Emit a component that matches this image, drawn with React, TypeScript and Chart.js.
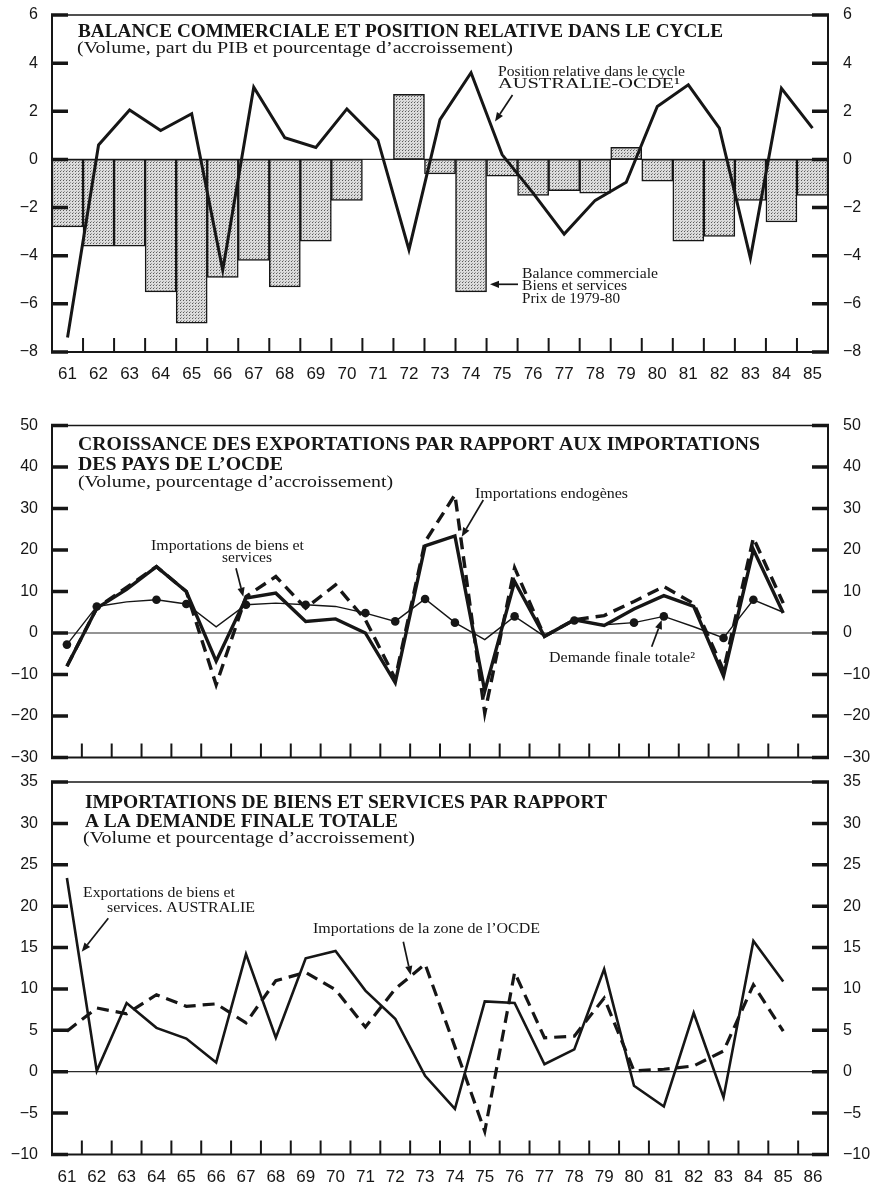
import { useEffect, useRef } from "react";
import { Chart, registerables } from "chart.js";

Chart.register(...registerables);

const INK = "#161616";
const SANS = "'Liberation Sans', Arial, Helvetica, sans-serif";
const NARROW = "'Liberation Sans Narrow', 'Arial Narrow', 'Liberation Sans', Arial, sans-serif";
const SERIF = "'Liberation Serif', 'Times New Roman', Times, serif";

const PAGE_W = 885;
const PLOT_LEFT = 52;
const PLOT_RIGHT = 828;

// ---- Data -------------------------------------------------------------
// Top panel: years 1961-1985
const yearsTop = ["61", "62", "63", "64", "65", "66", "67", "68", "69", "70", "71", "72", "73",
  "74", "75", "76", "77", "78", "79", "80", "81", "82", "83", "84", "85"];
// Lower panels: axis runs to 1986
const yearsLong = ["61", "62", "63", "64", "65", "66", "67", "68", "69", "70", "71", "72", "73",
  "74", "75", "76", "77", "78", "79", "80", "81", "82", "83", "84", "85", "86"];

// Balance commerciale, biens et services, prix de 1979-80 (% du PIB)
const tradeBalance = [-2.8, -3.6, -3.6, -5.5, -6.8, -4.9, -4.2, -5.3, -3.4, -1.7, 0, 2.7, -0.6,
  -5.5, -0.7, -1.5, -1.3, -1.4, 0.5, -0.9, -3.4, -3.2, -1.7, -2.6, -1.5];
// Position relative dans le cycle Australie-OCDE
const cyclePosition = [-7.4, 0.6, 2.05, 1.2, 1.9, -4.6, 3.0, 0.9, 0.5, 2.1, 0.8, -3.75, 1.65,
  3.6, 0.2, -1.4, -3.1, -1.7, -0.95, 2.2, 3.1, 1.3, -4.1, 2.95, 1.3];

// Middle panel
const goodsImports = [-8.0, 6.0, 10.5, 16.0, 10.0, -6.8, 8.4, 9.6, 2.8, 3.4, 0.0, -12.0, 21.0,
  23.4, -14.0, 12.4, -0.8, 3.2, 1.8, 5.8, 9.0, 6.4, -10.4, 20.1, 4.8];
const endogenousImports = [-8.0, 6.0, 11.0, 16.0, 10.0, -12.5, 8.8, 13.6, 6.0, 11.6, 3.2, -11.0, 22.0,
  33.3, -19.3, 15.7, -0.8, 3.2, 4.2, 7.6, 11.2, 7.1, -9.0, 22.9, 7.2];
const finalDemand = [-2.8, 6.4, 7.5, 8.0, 7.0, 1.5, 6.8, 7.2, 6.8, 6.4, 4.8, 2.8, 8.2,
  2.5, -1.6, 4.0, -0.8, 3.0, 2.0, 2.5, 4.0, 1.5, -1.2, 8.0, 5.0];
// Years marked with a dot on the final-demand line
const demandMarkedYears = ["61", "62", "64", "65", "67", "69", "71", "72", "73", "74", "76",
  "78", "80", "81", "83", "84"];

// Bottom panel
const australianExports = [23.4, 0.1, 8.3, 5.3, 4.0, 1.1, 14.2, 4.1, 13.7, 14.6, 9.8, 6.4, -0.5,
  -4.5, 8.5, 8.3, 0.9, 2.7, 12.4, -1.7, -4.2, 7.1, -3.1, 15.8, 10.9];
const oecdImports = [4.9, 7.7, 7.0, 9.3, 7.9, 8.2, 5.9, 11.0, 12.0, 9.9, 5.4, 10.0, 13.0,
  3.0, -7.2, 12.0, 4.1, 4.3, 8.9, 0.1, 0.3, 0.7, 2.5, 10.5, 4.9];

// ---- Layout -----------------------------------------------------------
type Note = { text: string; x: number; y: number; font: string; width?: number };
type Arrow = [number, number, number, number];

interface Panel {
  top: number;
  height: number;
  areaTop: number;
  areaBottom: number;
  labels: string[];
  showX: boolean;
  xPad: number;
  min: number;
  max: number;
  step: number;
  notes: Note[];
  arrows: Arrow[];
}

const titleFont = `bold 18.5px ${SERIF}`;
const subFont = `16px ${SERIF}`;
const noteFont = `14px ${SERIF}`;

const topPanel: Panel = {
  top: 0, height: 400, areaTop: 15, areaBottom: 352,
  labels: yearsTop, showX: true, xPad: 12,
  min: -8, max: 6, step: 2,
  notes: [
    { text: "BALANCE COMMERCIALE ET POSITION RELATIVE DANS LE CYCLE", x: 78, y: 36.5, font: titleFont, width: 645 },
    { text: "(Volume, part du PIB et pourcentage d\u2019accroissement)", x: 77, y: 53, font: subFont, width: 436 },
    { text: "Position relative dans le cycle", x: 498, y: 76, font: noteFont, width: 187 },
    { text: "AUSTRALIE-OCDE\u00b9", x: 498, y: 87.5, font: noteFont, width: 182 },
    { text: "Balance commerciale", x: 522, y: 277.5, font: noteFont, width: 136 },
    { text: "Biens et services", x: 522, y: 290, font: noteFont, width: 105 },
    { text: "Prix de 1979-80", x: 522, y: 302.5, font: noteFont, width: 98 },
  ],
  arrows: [
    [512.5, 95, 495, 121.5],
    [518, 284.3, 490, 284.3],
  ],
};

const middlePanel: Panel = {
  top: 400, height: 370, areaTop: 425.5, areaBottom: 757.5,
  labels: yearsLong, showX: false, xPad: 0,
  min: -30, max: 50, step: 10,
  notes: [
    { text: "CROISSANCE DES EXPORTATIONS PAR RAPPORT AUX IMPORTATIONS", x: 78, y: 450, font: titleFont, width: 682 },
    { text: "DES PAYS DE L\u2019OCDE", x: 78, y: 470, font: titleFont, width: 205 },
    { text: "(Volume, pourcentage d\u2019accroissement)", x: 78, y: 487, font: subFont, width: 315 },
    { text: "Importations de biens et", x: 151, y: 550, font: noteFont, width: 153 },
    { text: "services", x: 222, y: 561.5, font: noteFont, width: 50 },
    { text: "Importations endog\u00e8nes", x: 475, y: 498, font: noteFont, width: 153 },
    { text: "Demande finale totale\u00b2", x: 549, y: 661.5, font: noteFont, width: 146 },
  ],
  arrows: [
    [236, 568.3, 243.3, 596.7],
    [483.3, 500, 461.7, 536.7],
    [651.7, 646.7, 661.7, 620],
  ],
};

const bottomPanel: Panel = {
  top: 770, height: 416, areaTop: 782, areaBottom: 1154.5,
  labels: yearsLong, showX: true, xPad: 13,
  min: -10, max: 35, step: 5,
  notes: [
    { text: "IMPORTATIONS DE BIENS ET SERVICES PAR RAPPORT", x: 85, y: 808, font: titleFont, width: 522 },
    { text: "A LA DEMANDE FINALE TOTALE", x: 85, y: 826.5, font: titleFont, width: 313 },
    { text: "(Volume et pourcentage d\u2019accroissement)", x: 83, y: 843, font: subFont, width: 332 },
    { text: "Exportations de biens et", x: 83, y: 896.5, font: noteFont, width: 152 },
    { text: "services. AUSTRALIE", x: 107, y: 911.5, font: noteFont, width: 148 },
    { text: "Importations de la zone de l\u2019OCDE", x: 313, y: 933, font: noteFont, width: 227 },
  ],
  arrows: [
    [108.3, 918.3, 81.7, 951.7],
    [403.3, 941.7, 410.7, 975],
  ],
};

// ---- Helpers ----------------------------------------------------------
const fmt = (v: number | string) => {
  const n = Number(v);
  return n < 0 ? "\u2212" + Math.abs(n) : String(n);
};

function makeScales(p: Panel) {
  // Label offset comes from an invisible tick length so that the
  // label padding does not push the plotting area down.
  const yAxis = (side: "left" | "right") => ({
    position: side,
    min: p.min,
    max: p.max,
    grid: { display: false, drawTicks: true, tickLength: side === "left" ? 14 : 15 },
    border: { display: false },
    ticks: {
      stepSize: p.step,
      padding: 0,
      color: INK,
      font: { family: SANS, size: 16 },
      callback: fmt,
    },
    afterFit: (s: any) => {
      s.width = side === "left" ? PLOT_LEFT : PAGE_W - PLOT_RIGHT;
    },
  });
  return {
    x: {
      type: "category",
      offset: true,
      grid: { display: false, drawTicks: false, offset: true },
      border: { display: false },
      ticks: {
        display: p.showX,
        autoSkip: false,
        maxRotation: 0,
        minRotation: 0,
        padding: p.xPad,
        color: INK,
        font: { family: NARROW, size: 17 },
      },
      afterFit: (s: any) => {
        s.height = p.top + p.height - p.areaBottom;
      },
    },
    y: yAxis("left"),
    y2: yAxis("right"),
  };
}

// Axis frame: thin box, heavy value ticks on both sides, year ticks along the base
const framePlugin = {
  id: "frame",
  beforeDatasetsDraw(chart: any) {
    const { ctx, chartArea: a, scales } = chart;
    const y0 = scales.y.getPixelForValue(0);
    ctx.save();
    ctx.strokeStyle = "#2a2a2a";
    ctx.lineWidth = 1.2;
    ctx.beginPath();
    ctx.moveTo(a.left, y0);
    ctx.lineTo(a.right, y0);
    ctx.stroke();
    ctx.restore();
  },
  afterDatasetsDraw(chart: any) {
    const { ctx, chartArea: a, scales } = chart;
    ctx.save();
    ctx.strokeStyle = INK;
    ctx.lineCap = "butt";
    ctx.lineWidth = 1.6;
    ctx.beginPath();
    ctx.moveTo(a.left, a.top);
    ctx.lineTo(a.right, a.top);
    ctx.stroke();
    ctx.lineWidth = 2;
    ctx.beginPath();
    ctx.moveTo(a.left, a.top);
    ctx.lineTo(a.left, a.bottom);
    ctx.lineTo(a.right, a.bottom);
    ctx.lineTo(a.right, a.top);
    ctx.stroke();

    ctx.lineWidth = 3.5;
    for (const t of scales.y.ticks) {
      const py = scales.y.getPixelForValue(t.value);
      ctx.beginPath();
      ctx.moveTo(a.left - 1, py);
      ctx.lineTo(a.left + 16, py);
      ctx.moveTo(a.right - 16, py);
      ctx.lineTo(a.right + 1, py);
      ctx.stroke();
    }

    const n = chart.data.labels.length;
    ctx.lineWidth = 2;
    for (let i = 1; i < n; i++) {
      const px = (scales.x.getPixelForValue(i - 1) + scales.x.getPixelForValue(i)) / 2;
      ctx.beginPath();
      ctx.moveTo(px, a.bottom);
      ctx.lineTo(px, a.bottom - 14);
      ctx.stroke();
    }
    ctx.restore();
  },
};

function notesPlugin(p: Panel) {
  return {
    id: "notes",
    afterDraw(chart: any) {
      const ctx = chart.ctx as CanvasRenderingContext2D;
      ctx.save();
      ctx.fillStyle = INK;
      ctx.strokeStyle = INK;
      ctx.textAlign = "left";
      ctx.textBaseline = "alphabetic";
      for (const n of p.notes) {
        ctx.font = n.font;
        const w = ctx.measureText(n.text).width;
        const sx = n.width ? n.width / w : 1;
        ctx.save();
        ctx.translate(n.x, n.y - p.top);
        ctx.scale(sx, 1);
        ctx.fillText(n.text, 0, 0);
        ctx.restore();
      }
      for (const [x1, y1, x2, y2] of p.arrows) {
        const ay1 = y1 - p.top;
        const ay2 = y2 - p.top;
        const ang = Math.atan2(ay2 - ay1, x2 - x1);
        const len = 9;
        const half = 3.6;
        const bx = x2 - len * Math.cos(ang);
        const by = ay2 - len * Math.sin(ang);
        ctx.lineWidth = 1.7;
        ctx.beginPath();
        ctx.moveTo(x1, ay1);
        ctx.lineTo(bx, by);
        ctx.stroke();
        ctx.beginPath();
        ctx.moveTo(x2, ay2);
        ctx.lineTo(bx + half * Math.sin(ang), by - half * Math.cos(ang));
        ctx.lineTo(bx - half * Math.sin(ang), by + half * Math.cos(ang));
        ctx.closePath();
        ctx.fill();
      }
      ctx.restore();
    },
  };
}

// Halftone-like dotted fill for the trade-balance bars
function stipple(): CanvasPattern | string {
  const c = document.createElement("canvas");
  c.width = 3;
  c.height = 3;
  const g = c.getContext("2d");
  if (!g) return "#c4c4c4";
  g.fillStyle = "#dcdcdc";
  g.fillRect(0, 0, 3, 3);
  g.fillStyle = "#5a5a5a";
  g.fillRect(0, 0, 1, 1);
  g.fillStyle = "#9a9a9a";
  g.fillRect(1, 2, 1, 1);
  return g.createPattern(c, "repeat") || "#c4c4c4";
}

function baseOptions(p: Panel): any {
  return {
    responsive: false,
    maintainAspectRatio: false,
    animation: false,
    events: [],
    devicePixelRatio: 1,
    layout: { padding: { top: p.areaTop - p.top, left: 0, right: 0, bottom: 0 } },
    plugins: { legend: { display: false }, tooltip: { enabled: false }, title: { display: false } },
    scales: makeScales(p),
  };
}

export default function App() {
  const topRef = useRef<HTMLCanvasElement>(null);
  const midRef = useRef<HTMLCanvasElement>(null);
  const botRef = useRef<HTMLCanvasElement>(null);

  useEffect(() => {
    const pattern = stipple();
    const lineBase = { borderColor: INK, tension: 0, pointRadius: 0, borderJoinStyle: "miter", fill: false };

    const top = new Chart(topRef.current as HTMLCanvasElement, {
      type: "bar",
      data: {
        labels: topPanel.labels,
        datasets: [
          {
            type: "line",
            label: "Position relative dans le cycle AUSTRALIE-OCDE",
            data: cyclePosition,
            ...lineBase,
            borderWidth: 3,
            order: 1,
          } as any,
          {
            type: "bar",
            label: "Balance commerciale",
            data: tradeBalance,
            backgroundColor: pattern,
            borderColor: INK,
            borderWidth: 1.5,
            borderSkipped: false,
            barPercentage: 1,
            categoryPercentage: 1,
            order: 2,
          } as any,
        ],
      },
      options: baseOptions(topPanel),
      plugins: [framePlugin, notesPlugin(topPanel)],
    });

    const demandRadius = finalDemand.map((_, i) => (demandMarkedYears.includes(yearsLong[i]) ? 4.3 : 0));

    const mid = new Chart(midRef.current as HTMLCanvasElement, {
      type: "line",
      data: {
        labels: middlePanel.labels,
        datasets: [
          {
            label: "Demande finale totale",
            data: finalDemand,
            ...lineBase,
            borderWidth: 1.4,
            pointRadius: demandRadius,
            pointBackgroundColor: INK,
            pointBorderWidth: 0,
            order: 1,
          } as any,
          {
            label: "Importations de biens et services",
            data: goodsImports,
            ...lineBase,
            borderWidth: 3.4,
            order: 2,
          } as any,
          {
            label: "Importations endogènes",
            data: endogenousImports,
            ...lineBase,
            borderWidth: 3.4,
            borderDash: [12, 7],
            order: 3,
          } as any,
        ],
      },
      options: baseOptions(middlePanel),
      plugins: [framePlugin, notesPlugin(middlePanel)],
    });

    const bot = new Chart(botRef.current as HTMLCanvasElement, {
      type: "line",
      data: {
        labels: bottomPanel.labels,
        datasets: [
          {
            label: "Exportations de biens et services, AUSTRALIE",
            data: australianExports,
            ...lineBase,
            borderWidth: 2.6,
            order: 1,
          } as any,
          {
            label: "Importations de la zone de l'OCDE",
            data: oecdImports,
            ...lineBase,
            borderWidth: 3.2,
            borderDash: [12, 7],
            order: 2,
          } as any,
        ],
      },
      options: baseOptions(bottomPanel),
      plugins: [framePlugin, notesPlugin(bottomPanel)],
    });

    return () => {
      top.destroy();
      mid.destroy();
      bot.destroy();
    };
  }, []);

  const canvasStyle = (p: Panel): React.CSSProperties => ({
    position: "absolute",
    left: 0,
    top: p.top,
    width: PAGE_W,
    height: p.height,
  });

  return (
    <div style={{ position: "absolute", left: 0, top: 0, width: PAGE_W, height: 1186, background: "#fff" }}>
      <canvas ref={topRef} width={PAGE_W} height={topPanel.height} style={canvasStyle(topPanel)} />
      <canvas ref={midRef} width={PAGE_W} height={middlePanel.height} style={canvasStyle(middlePanel)} />
      <canvas ref={botRef} width={PAGE_W} height={bottomPanel.height} style={canvasStyle(bottomPanel)} />
    </div>
  );
}
